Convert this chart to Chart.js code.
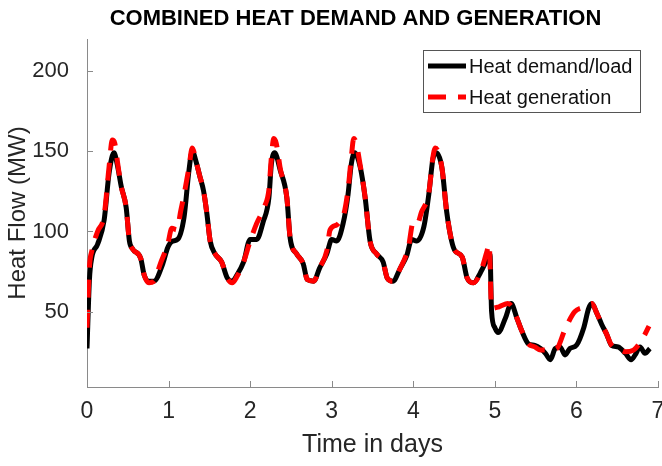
<!DOCTYPE html>
<html lang="en">
<head>
    <meta charset="UTF-8" />
    <title>Combined Heat Demand and Generation</title>
    <script src="https://cdn.jsdelivr.net/npm/chart.js"></script>
    <style>
        html, body { margin: 0; padding: 0; background: #fff; }
        #wrap { width: 662px; height: 466px; }
    </style>
</head>
<body>
    <div id="wrap"><canvas id="heatChart"></canvas></div>

    <script>
        // values (time in days, heat flow in MW)
        const demandDays = [0, 0.03, 0.06, 0.13, 0.21, 0.27, 0.33, 0.37, 0.42, 0.48, 0.52, 0.56, 0.66, 0.70, 0.76, 0.82, 0.93, 0.99,
            1.05, 1.11, 1.19, 1.25, 1.29, 1.34, 1.38, 1.43, 1.47, 1.51, 1.57, 1.65, 1.72, 1.78, 1.84, 1.92,
            2.00, 2.08, 2.16, 2.23, 2.26, 2.30, 2.37, 2.45, 2.49, 2.57, 2.65, 2.70, 2.78, 2.85, 2.94,
            3.00, 3.06, 3.14, 3.20, 3.24, 3.28, 3.35, 3.41, 3.47, 3.55, 3.63, 3.68, 3.75, 3.84, 3.92, 3.98,
            4.04, 4.13, 4.19, 4.24, 4.28, 4.35, 4.41, 4.47, 4.51, 4.60, 4.66, 4.74, 4.82, 4.90, 4.94, 4.96,
            5.00, 5.04, 5.13, 5.20, 5.27, 5.33, 5.41, 5.49, 5.56, 5.62, 5.68, 5.74, 5.80, 5.86, 5.92,
            6.00, 6.09, 6.15, 6.19, 6.25, 6.31, 6.37, 6.43, 6.51, 6.60, 6.67, 6.72, 6.78, 6.84, 6.90];
        const demandMW = [27, 70, 84, 92, 107, 136, 149, 142, 128, 115, 94, 89, 83, 73, 69, 69, 80, 90,
            94, 95, 109, 138, 150, 143, 135, 125, 111, 94, 86, 81, 71, 69, 73, 81,
            95, 95, 106, 121, 142, 149, 138, 121, 96, 86, 80, 70, 69, 77, 86,
            95, 94, 105, 123, 142, 149, 140, 121, 94, 86, 81, 71, 69, 77, 85, 95,
            94, 103, 123, 145, 149, 140, 112, 94, 88, 84, 71, 68, 74, 82, 86, 50,
            40, 37, 46, 55, 46, 38, 30, 29, 27, 24, 20, 27, 28, 23, 27,
            29, 40, 52, 55, 49, 42, 36, 29, 28, 24, 20, 23, 28, 24, 27];

        const genDays = [0, 0.03, 0.06, 0.13, 0.21, 0.27, 0.31, 0.34, 0.38, 0.42, 0.48, 0.52, 0.56, 0.66, 0.70, 0.76, 0.82, 0.90, 0.99,
            1.04, 1.10, 1.15, 1.19, 1.25, 1.29, 1.34, 1.38, 1.43, 1.47, 1.51, 1.57, 1.65, 1.72, 1.78, 1.84, 1.92,
            2.00, 2.08, 2.18, 2.23, 2.26, 2.29, 2.32, 2.37, 2.45, 2.49, 2.57, 2.65, 2.70, 2.78, 2.85, 2.94, 2.98,
            3.06, 3.10, 3.14, 3.20, 3.24, 3.27, 3.30, 3.35, 3.41, 3.47, 3.55, 3.63, 3.68, 3.75, 3.84, 3.94,
            4.00, 4.05, 4.10, 4.19, 4.24, 4.27, 4.35, 4.41, 4.47, 4.51, 4.60, 4.66, 4.74, 4.82, 4.90, 4.93, 4.96,
            5.05, 5.16, 5.21, 5.27, 5.33, 5.41, 5.49, 5.56, 5.62, 5.68, 5.76, 5.86, 5.98,
            6.10, 6.19, 6.25, 6.31, 6.37, 6.43, 6.51, 6.60, 6.70, 6.82, 6.89];
        const genMW = [40, 78, 88, 100, 110, 140, 157, 155, 141, 128, 115, 94, 89, 83, 73, 68, 69, 80, 92,
            102, 101, 113, 123, 140, 152, 143, 135, 125, 111, 94, 86, 81, 71, 68, 72, 81,
            94, 105, 116, 126, 146, 158, 155, 139, 121, 96, 86, 80, 70, 69, 77, 88, 101,
            104, 106, 109, 126, 146, 158, 155, 141, 121, 94, 86, 81, 71, 69, 77, 90,
            106, 105, 112, 124, 146, 152, 140, 112, 94, 88, 84, 71, 68, 74, 87, 92, 52,
            53, 55, 53, 46, 38, 30, 28, 26, 26, 26, 27, 39, 50,
            53, 55, 49, 42, 36, 29, 27, 25, 26, 34, 41];

        const dayTicks = [0, 1, 2, 3, 4, 5, 6, 7];
        const flowTicks = [50, 100, 150, 200];

        const chartTitle = "COMBINED HEAT DEMAND AND GENERATION";
        const fontFamily = '"Liberation Sans", Arial, Helvetica, sans-serif';
        const axisGray = "#8a8a8a";
        const textDark = "#262626";

        const toPoints = (xs, ys) => xs.map((x, i) => ({ x: x, y: ys[i] }));

        // MATLAB style ticks pointing into the axes
        const inwardTicks = {
            id: "inwardTicks",
            afterDraw(chart) {
                const { ctx, chartArea, scales } = chart;
                ctx.save();
                ctx.strokeStyle = axisGray;
                ctx.lineWidth = 1;
                ctx.beginPath();
                scales.x.ticks.forEach(t => {
                    const px = Math.round(scales.x.getPixelForValue(t.value)) + 0.5;
                    ctx.moveTo(px, chartArea.bottom);
                    ctx.lineTo(px, chartArea.bottom - 6);
                });
                scales.y.ticks.forEach(t => {
                    const py = Math.round(scales.y.getPixelForValue(t.value)) + 0.5;
                    ctx.moveTo(chartArea.left, py);
                    ctx.lineTo(chartArea.left + 6, py);
                });
                ctx.stroke();
                ctx.restore();
            }
        };

        const topTitle = {
            id: "topTitle",
            afterDraw(chart) {
                const { ctx, chartArea } = chart;
                ctx.save();
                ctx.fillStyle = "#000";
                ctx.font = "bold 22px " + fontFamily;
                ctx.textAlign = "center";
                ctx.textBaseline = "middle";
                ctx.fillText(chartTitle, (chartArea.left + chartArea.right) / 2 - 17, chartArea.top - 20);
                ctx.restore();
            }
        };

        // boxed legend in the top right corner of the axes
        const boxLegend = {
            id: "boxLegend",
            afterDraw(chart) {
                const { ctx, chartArea } = chart;
                const w = 217, h = 62;
                const x = chartArea.right - 18 - w;
                const y = chartArea.top + 11;
                ctx.save();
                ctx.fillStyle = "#fff";
                ctx.fillRect(x, y, w, h);
                ctx.strokeStyle = "#555";
                ctx.lineWidth = 1;
                ctx.strokeRect(Math.round(x) + 0.5, Math.round(y) + 0.5, w, h);
                chart.data.datasets.forEach((ds, i) => {
                    const ly = y + 16 + i * 31;
                    ctx.strokeStyle = ds.borderColor;
                    ctx.lineWidth = ds.borderWidth;
                    ctx.setLineDash(ds.borderDash || []);
                    ctx.beginPath();
                    ctx.moveTo(x + 5, ly);
                    ctx.lineTo(x + 43, ly);
                    ctx.stroke();
                    ctx.setLineDash([]);
                    ctx.fillStyle = "#111";
                    ctx.font = "20px " + fontFamily;
                    ctx.textAlign = "left";
                    ctx.textBaseline = "middle";
                    ctx.fillText(ds.label, x + 46, ly + 1);
                });
                ctx.restore();
            }
        };

        const ctx = document.getElementById("heatChart").getContext("2d");
        const heatChart = new Chart(ctx, {
            type: "line",
            data: {
                datasets: [{
                    label: "Heat demand/load",
                    data: toPoints(demandDays, demandMW),
                    borderColor: "#000000",
                    borderWidth: 5,
                    pointRadius: 0,
                    cubicInterpolationMode: "monotone",
                    fill: false,
                    order: 2
                }, {
                    label: "Heat generation",
                    data: toPoints(genDays, genMW),
                    borderColor: "#ff0000",
                    borderWidth: 5,
                    borderDash: [18, 12],
                    pointRadius: 0,
                    cubicInterpolationMode: "monotone",
                    fill: false,
                    order: 1
                }]
            },
            options: {
                responsive: true,
                maintainAspectRatio: false,
                animation: false,
                devicePixelRatio: 1,
                layout: { padding: { top: 39, left: 4, right: 4, bottom: 4 } },
                plugins: {
                    legend: { display: false },
                    title: { display: false },
                    tooltip: { enabled: false }
                },
                scales: {
                    x: {
                        type: "linear",
                        min: 0,
                        max: 7,
                        afterBuildTicks: axis => { axis.ticks = dayTicks.map(v => ({ value: v })); },
                        afterFit: axis => { axis.height = 75; axis.paddingLeft = 0; axis.paddingRight = 0; },
                        grid: { display: false },
                        border: { display: true, color: axisGray, width: 1 },
                        ticks: { color: textDark, padding: 3, font: { family: fontFamily, size: 23 } },
                        title: { display: true, text: "Time in days", color: textDark, padding: { top: 4, bottom: 2 }, font: { family: fontFamily, size: 25 } }
                    },
                    y: {
                        min: 3,
                        max: 220,
                        afterBuildTicks: axis => { axis.ticks = flowTicks.map(v => ({ value: v })); },
                        afterFit: axis => { axis.width = 83; },
                        grid: { display: false },
                        border: { display: true, color: axisGray, width: 1 },
                        ticks: { color: textDark, padding: 10, font: { family: fontFamily, size: 22 } },
                        title: { display: true, text: "Heat Flow (MW)", color: textDark, padding: { top: 0, bottom: 4 }, font: { family: fontFamily, size: 24 } }
                    }
                }
            },
            plugins: [inwardTicks, topTitle, boxLegend]
        });
    </script>
</body>
</html>
